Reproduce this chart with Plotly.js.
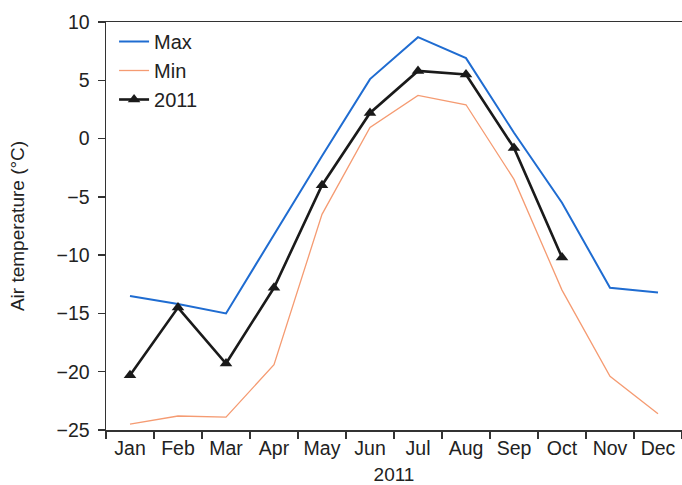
<!DOCTYPE html>
<html>
<head>
<meta charset="utf-8">
<script src="https://cdn.plot.ly/plotly-3.0.1.min.js"></script>
<style>html,body{margin:0;padding:0;background:#fff;}#chart{width:682px;height:485px;}</style>
</head>
<body>
<div id="chart"></div>
<script>
const months = ["Jan","Feb","Mar","Apr","May","Jun","Jul","Aug","Sep","Oct","Nov","Dec"];
const maxVals = [-13.5,-14.2,-15.0,-8.2,-1.5,5.1,8.7,6.9,0.5,-5.5,-12.8,-13.2];
const minVals = [-24.5,-23.8,-23.9,-19.4,-6.5,0.95,3.7,2.9,-3.5,-13.0,-20.4,-23.6];
const months2011 = ["Jan","Feb","Mar","Apr","May","Jun","Jul","Aug","Sep","Oct"];
const vals2011 = [-20.3,-14.5,-19.3,-12.8,-4.0,2.2,5.8,5.5,-0.8,-10.2];
const yTicks = [10,5,0,-5,-10,-15,-20,-25];

const traces = [
  {x: months, y: maxVals, name: "Max", mode: "lines", legendgroup: "a", line: {color: "#1f6cd1", width: 2}},
  {x: months, y: minVals, name: "Min", mode: "lines", legendgroup: "b", line: {color: "#f59b72", width: 1.3}},
  {x: months2011, y: vals2011, name: "2011", mode: "lines+markers", legendgroup: "c",
   line: {color: "#1a1a1a", width: 2.6},
   marker: {symbol: "triangle-up", size: 11, color: "#1a1a1a"}}
];

const layout = {
  width: 682, height: 485,
  margin: {l: 106, r: 0, t: 22, b: 55},
  paper_bgcolor: "#fff", plot_bgcolor: "#fff",
  font: {family: "Liberation Sans, Arial, sans-serif", size: 19, color: "#222"},
  showlegend: true,
  legend: {x: 0.014, y: 1.0, xanchor: "left", yanchor: "top", bgcolor: "rgba(0,0,0,0)",
           font: {size: 20, color: "#222"}, traceorder: "grouped", tracegroupgap: 0, itemwidth: 30},
  xaxis: {
    type: "category", categoryarray: months, range: [-0.5, 11.5],
    showline: true, linecolor: "#333", linewidth: 1.5, mirror: true,
    ticks: "outside", tickson: "boundaries", ticklen: 7, tickcolor: "#333", tickwidth: 1.5,
    showgrid: false, zeroline: false, tickfont: {size: 19.5},
    title: {text: "2011", font: {size: 19, color: "#222"}, standoff: 19}
  },
  yaxis: {
    range: [-25, 10], tickvals: yTicks,
    showline: true, linecolor: "#333", linewidth: 1.5,
    ticks: "outside", ticklen: 7, tickcolor: "#333", tickwidth: 1.5, ticklabelstandoff: 4,
    showgrid: false, zeroline: false, tickfont: {size: 19.5},
    title: {text: "Air temperature (°C)", font: {size: 19, color: "#222"}, standoff: 27}
  }
};

Plotly.newPlot("chart", traces, layout, {displayModeBar: false, staticPlot: true});
</script>
</body>
</html>
